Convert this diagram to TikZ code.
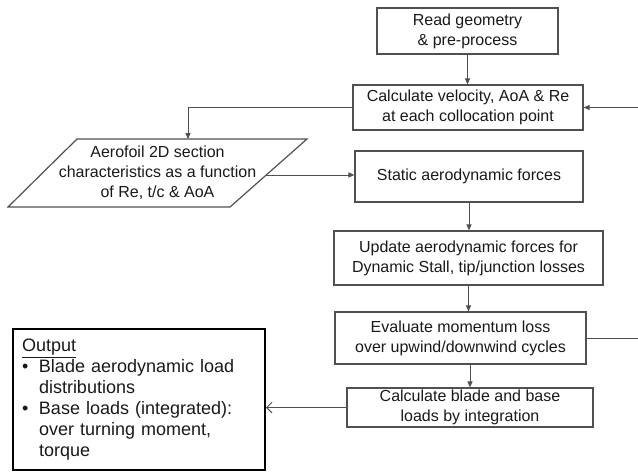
\documentclass[tikz,border=0pt]{standalone}
\usepackage{fontspec}
\setmainfont{Liberation Sans}
\usetikzlibrary{arrows.meta}
\definecolor{boxline}{RGB}{80,80,80}
\definecolor{boxtext}{RGB}{25,25,25}
\tikzset{every picture/.style={line width=0.75pt}}
\tikzset{
  procbox/.style={draw=boxline, line width=0.9pt, rectangle, align=center, inner sep=0pt, text=boxtext, font=\fontsize{12}{15}\selectfont},
  datatext/.style={align=center, inner sep=0pt, text=boxtext, font=\fontsize{12}{15}\selectfont},
  databox/.style={draw=boxline, line width=0.9pt, line join=miter},
  outbox/.style={draw=black, line width=1.5pt, rectangle, align=left, inner xsep=6.75pt, inner ysep=0pt, text=boxtext, font=\fontsize{13.5}{15.75}\selectfont},
  flowarrow/.style={draw=boxline, line width=0.75pt, -{Triangle[length=4.5pt,width=3.8pt]}},
  openarrow/.style={draw=boxline, line width=0.75pt, -{Straight Barb[length=4pt,width=8pt]}}
}

\begin{document}
\begin{tikzpicture}[x=0.75pt,y=0.75pt,yscale=-1,xscale=1]
\useasboundingbox (0,0) rectangle (638,472);
\clip (0,0) rectangle (638,472);

%Flowchart: Process
\node [procbox, minimum width=135.75pt, minimum height=34.5pt] (geom) at (467.5,31) {Read geometry\\ \& pre-process};
%Flowchart: Process
\node [procbox, minimum width=172.5pt, minimum height=33.75pt] (calc) at (468,107.5) {Calculate velocity, AoA \& Re\\at each collocation point};
%Flowchart: Data
\draw [databox] (8,207) -- (230,207) -- (307,139) -- (77,139) -- cycle;
\node [datatext] (aerofoil) at (157.5,173) {Aerofoil 2D section\\characteristics as a function\\of Re, t/c \& AoA};
\coordinate (aerotop) at (188,139);
\coordinate (aeroright) at (266,175);
%Flowchart: Process
\node [procbox, minimum width=171pt, minimum height=38.25pt] (static) at (469,176.5) {Static aerodynamic forces};
%Flowchart: Process
\node [procbox, minimum width=201.75pt, minimum height=40.5pt] (update) at (468.5,258) {Update aerodynamic forces for\\Dynamic Stall, tip/junction losses};
%Flowchart: Process
\node [procbox, minimum width=188.25pt, minimum height=39pt] (evalm) at (460.5,338) {Evaluate momentum loss\\over upwind/downwind cycles};
%Flowchart: Process
\node [procbox, minimum width=184.5pt, minimum height=29.25pt] (loads) at (470,407.5) {Calculate blade and base\\loads by integration};
%Output box
\node [outbox, minimum width=189pt, minimum height=105.75pt, text width=175.5pt] (output) at (139,399.5) {\underline{Output}\\
\makebox[12.75pt][l]{\textbullet}Blade aerodynamic load\\
\hspace*{12.75pt}distributions\\
\makebox[12.75pt][l]{\textbullet}Base loads (integrated):\\
\hspace*{12.75pt}over turning moment,\\
\hspace*{12.75pt}torque};

%Straight Lines
\draw [flowarrow] (geom.south) -- (geom.south |- calc.north);
\draw [flowarrow] (calc.west) -| (aerotop);
\draw [flowarrow] (aeroright) -- (aeroright -| static.west);
\draw [flowarrow] (static.south) -- (static.south |- update.north);
\draw [flowarrow] (update.south) -- (update.south |- evalm.north);
\draw [flowarrow] (evalm.south -| loads.north) -- (loads.north);
%loop back, runs off the right edge
\coordinate (loopright) at (660,338);
\draw [flowarrow] (evalm.east) -- (evalm.east -| loopright) |- (calc.east);
\draw [openarrow] (loads.west) -- (loads.west -| output.east);

\end{tikzpicture}
\end{document}
